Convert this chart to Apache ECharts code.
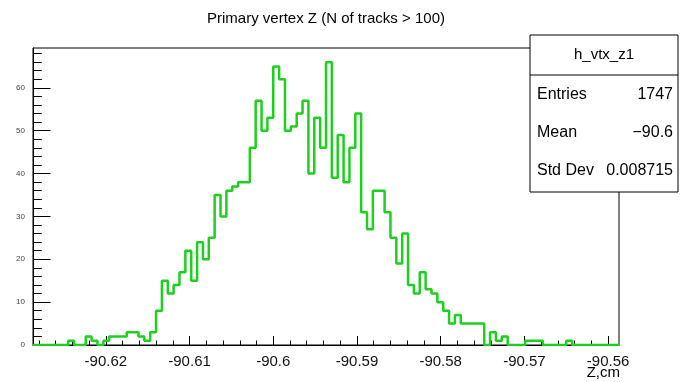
<!DOCTYPE html>
<html><head><meta charset="utf-8">
<script src="https://cdn.jsdelivr.net/npm/echarts@6/dist/echarts.min.js"></script>
<style>html,body{margin:0;padding:0;background:#fff}#c{width:680px;height:382px}</style>
</head><body><div id="c"></div>
<script>
// ---- data ----
const histName = 'h_vtx_z1';
const titleText = 'Primary vertex Z (N of tracks > 100)';
const axisTitle = 'Z,cm';
const xMin = -90.6287;
const binWidth = 0.0007;
const counts = [
  0,0,0,0,0,0,1,0,0,2,
  1,0,1,2,2,2,3,3,2,1,
  3,8,15,12,14,17,22,15,24,20,
  25,35,30,36,37,38,38,46,57,50,
  53,65,62,50,51,54,57,40,53,46,
  66,39,49,38,46,54,31,27,36,36,
  31,25,19,26,14,12,17,13,12,10,
  8,5,7,5,5,5,5,0,3,1,
  2,0,0,0,1,1,1,0,0,0,
  0,1,0,0,0,0,0,0,0,0
];
const xMajorTicks = [-90.62,-90.61,-90.60,-90.59,-90.58,-90.57,-90.56];
const xTickLabels = ['-90.62','-90.61','-90.6','-90.59','-90.58','-90.57','-90.56'];
const yMajorTicks = [0,10,20,30,40,50,60];
const yTickLabels = ['0','10','20','30','40','50','60'];
const yMax = 69.3;
const statLabels = ['Entries','Mean','Std Dev'];
const statValues = ['1747','\u221290.6','0.008715'];

// ---- derived ----
const nBins = counts.length;
const xMax = xMin + binWidth*nBins;
const stepData = counts.map((c,i)=>[xMin+binWidth*i, c]);
stepData.push([xMax, counts[nBins-1]]);
const xMinor = [];
for (let k=Math.ceil((xMin+90.62)/0.002 - 1e-6); ; k++) { const v=-90.62+k*0.002; if (v>xMax) break; if (v>=xMin) xMinor.push(v); }
const yMinor = [];
for (let v=0; v<=yMax; v+=2) yMinor.push(v);

const FONT = "'Liberation Sans',Arial,sans-serif";
const findLabel = (v, ticks, labels) => { for (let i=0;i<ticks.length;i++) if (Math.abs(ticks[i]-v)<1e-7) return labels[i]; return ''; };

const chart = echarts.init(document.getElementById('c'), null, {renderer:'canvas'});
const L=33, R=619, T=48, B=345;
chart.setOption({
  animation:false,
  backgroundColor:'#fff',
  grid:{left:L, right:680-R, top:T, bottom:382-B, show:true, borderColor:'#000', borderWidth:1, backgroundColor:'transparent'},
  xAxis:[
    {type:'value', min:xMin, max:xMax, position:'bottom',
     axisLine:{show:true, onZero:false, lineStyle:{color:'#000', width:1}},
     axisTick:{show:true, inside:true, length:9, customValues:xMajorTicks, lineStyle:{color:'#000'}},
     axisLabel:{show:true, customValues:xMajorTicks, formatter:v=>findLabel(v,xMajorTicks,xTickLabels), fontFamily:FONT, fontSize:15, color:'#111', margin:9},
     splitLine:{show:false}},
    {type:'value', min:xMin, max:xMax, position:'bottom',
     axisLine:{show:false, onZero:false},
     axisTick:{show:true, inside:true, length:4.5, customValues:xMinor, lineStyle:{color:'#000'}},
     axisLabel:{show:false}, splitLine:{show:false}}
  ],
  yAxis:[
    {type:'value', min:0, max:yMax, position:'left',
     axisLine:{show:true, onZero:false, lineStyle:{color:'#000', width:1}},
     axisTick:{show:true, inside:true, length:17.5, customValues:yMajorTicks, lineStyle:{color:'#000'}},
     axisLabel:{show:true, customValues:yMajorTicks, formatter:v=>findLabel(v,yMajorTicks,yTickLabels), fontFamily:FONT, fontSize:8, color:'#444', margin:8},
     splitLine:{show:false}},
    {type:'value', min:0, max:yMax, position:'left',
     axisLine:{show:false, onZero:false},
     axisTick:{show:true, inside:true, length:8.8, customValues:yMinor, lineStyle:{color:'#000'}},
     axisLabel:{show:false}, splitLine:{show:false}}
  ],
  series:[{
    type:'line', xAxisIndex:0, yAxisIndex:0, step:'end', data:stepData,
    symbol:'none', lineStyle:{color:'#1ed01e', width:2.5}, z:3
  }],
  graphic:[
    {type:'text', x:326, y:19, z:100, style:{text:titleText, align:'center', verticalAlign:'middle', font:'15px '+FONT, fill:'#000'}},
    {type:'text', x:R+1, y:373, z:100, style:{text:axisTitle, align:'right', verticalAlign:'middle', font:'15px '+FONT, fill:'#000'}},
    {type:'rect', z:100, shape:{x:530, y:35, width:148, height:157}, style:{fill:'#fff', stroke:'#000', lineWidth:1}},
    {type:'line', z:101, shape:{x1:530, y1:75, x2:678, y2:75}, style:{stroke:'#000', lineWidth:1}},
    {type:'text', z:101, x:604, y:55, style:{text:histName, align:'center', verticalAlign:'middle', font:'15px '+FONT, fill:'#000'}},
    ...statLabels.map((s,i)=>({type:'text', z:101, x:537, y:95+i*38, style:{text:s, align:'left', verticalAlign:'middle', font:'16px '+FONT, fill:'#000'}})),
    ...statValues.map((s,i)=>({type:'text', z:101, x:673, y:95+i*38, style:{text:s, align:'right', verticalAlign:'middle', font:'16px '+FONT, fill:'#000'}}))
  ]
});
</script></body></html>
